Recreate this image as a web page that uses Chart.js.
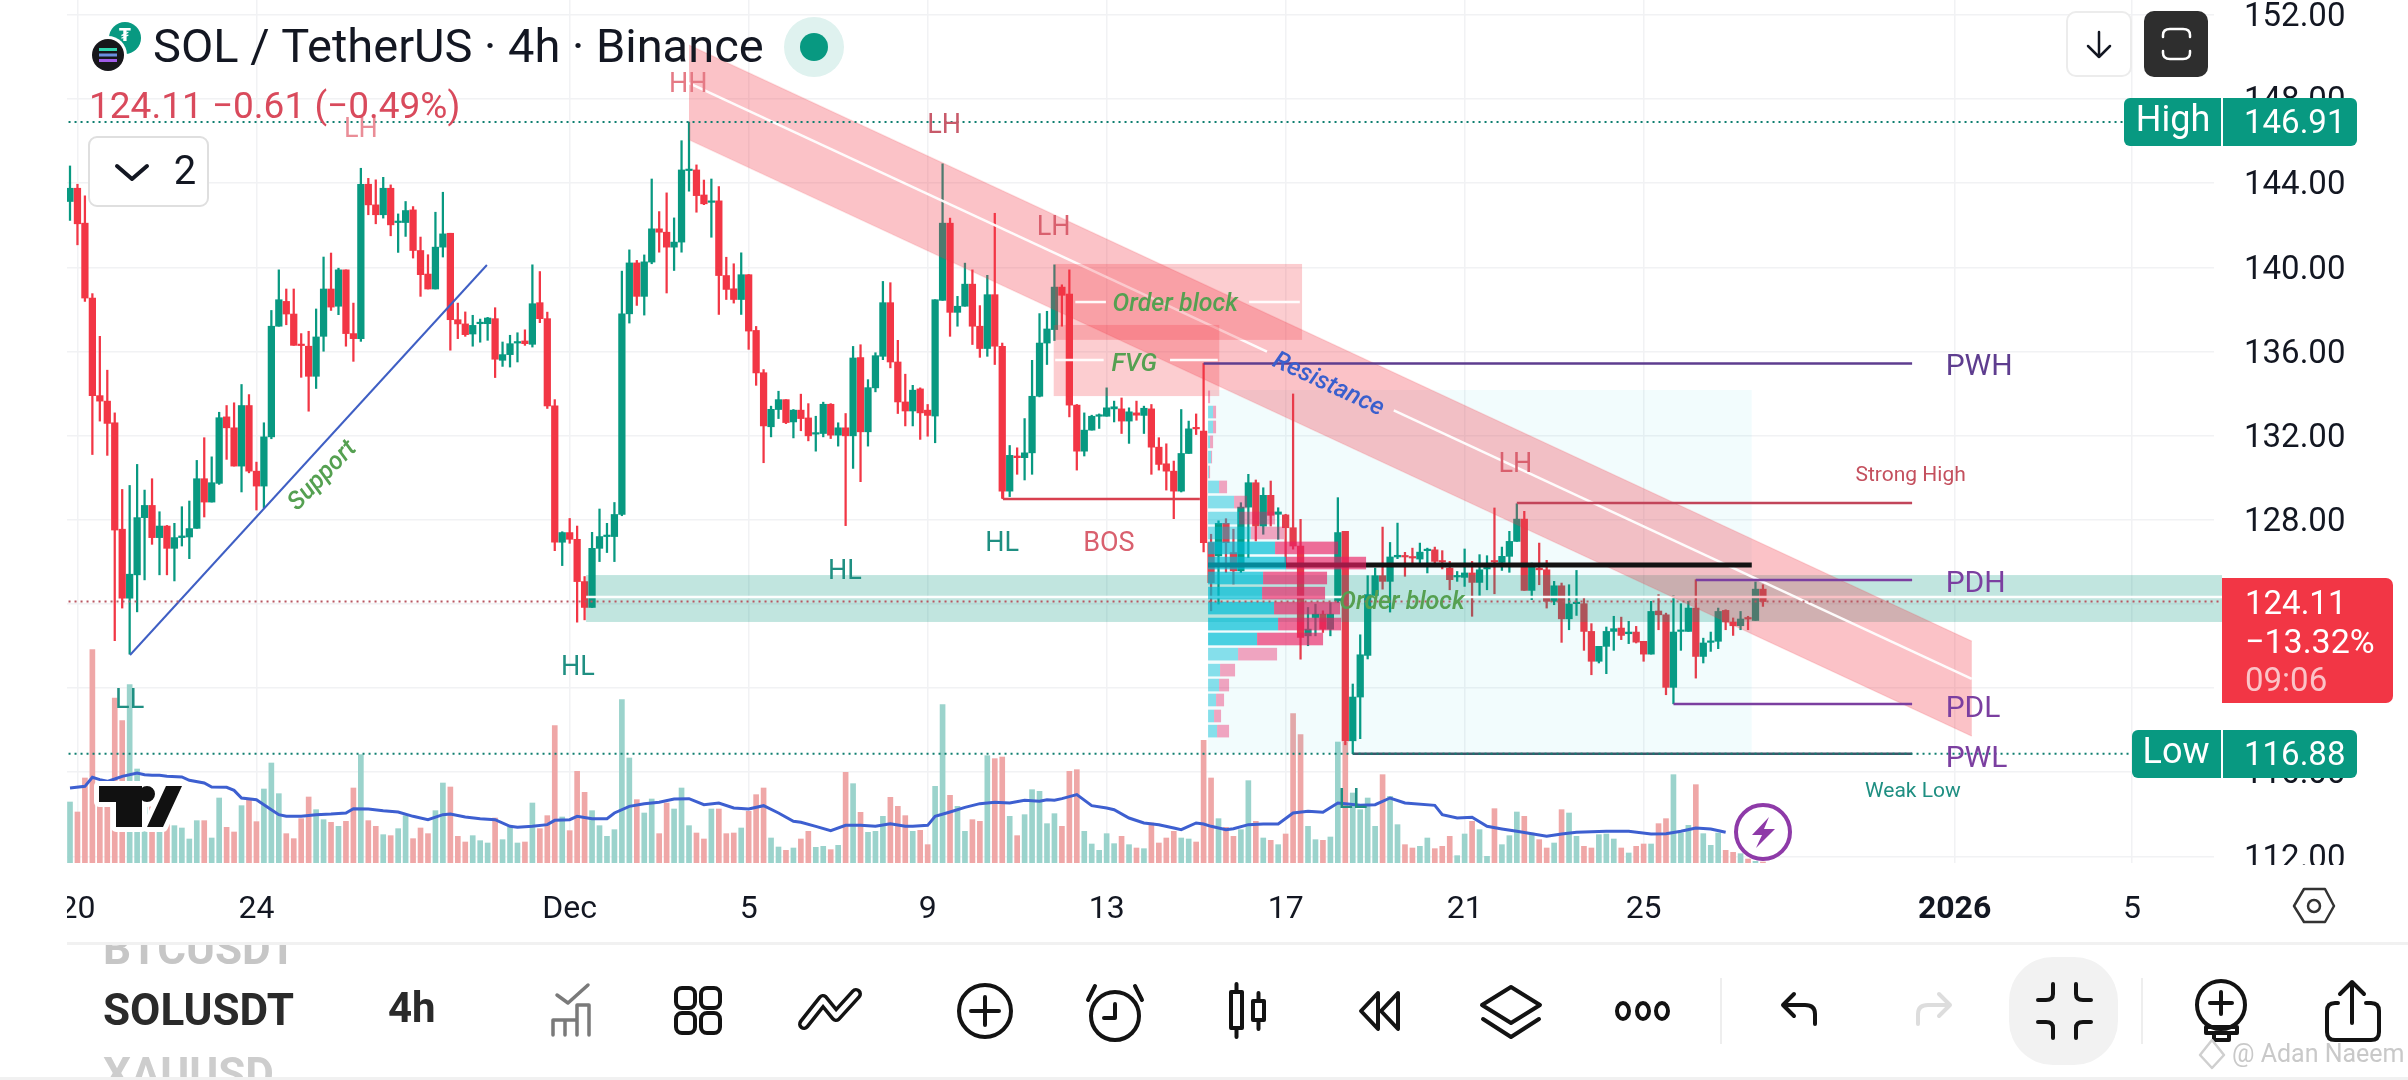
<!DOCTYPE html>
<html>
<head>
<meta charset="utf-8">
<style>
  html, body { margin: 0; padding: 0; background: #fff; overflow: hidden; }
  canvas { display: block; }
</style>
<script src="https://cdn.jsdelivr.net/npm/chart.js@4/dist/chart.umd.js"></script>
</head>
<body>
<canvas id="chart" width="2408" height="1080" style="width:2408px;height:1080px"></canvas>
<script>
// 4h candles
const opens = [143.13,143.76,142.10,138.54,133.90,133.64,132.61,127.55,124.27,125.38,128.10,128.68,127.15,127.70,126.64,127.15,127.18,127.59,129.95,128.84,
129.73,132.89,132.37,130.55,133.43,130.31,129.60,131.94,137.20,138.38,137.78,136.33,136.25,134.82,136.72,138.97,138.15,139.88,136.85,136.61,
143.95,142.97,142.50,143.76,142.13,142.13,142.73,140.80,139.68,138.97,140.96,141.62,137.51,137.31,136.83,137.32,137.32,137.56,135.58,135.85,
136.40,136.50,136.34,138.32,137.56,133.41,126.93,127.39,127.07,125.06,123.83,126.64,127.20,127.20,128.25,137.79,140.21,138.62,140.25,141.83,
141.67,140.96,141.20,144.60,144.63,143.44,143.09,143.16,139.61,138.98,138.47,139.65,137.00,134.99,132.42,133.24,133.71,132.65,133.21,132.84,
132.07,132.10,133.49,132.02,132.37,131.99,135.71,132.18,134.27,135.77,138.32,135.50,133.60,133.17,134.22,133.21,132.93,138.43,142.10,137.86,
138.15,139.20,137.20,136.14,138.70,136.25,129.36,131.03,130.95,131.18,133.87,136.40,137.04,139.06,138.73,133.45,131.26,132.26,132.92,132.92,
133.27,133.27,132.69,133.08,132.96,133.27,131.45,130.66,130.31,129.36,131.15,132.37,132.21,126.91,126.28,127.83,126.44,125.57,128.60,129.76,
127.70,129.16,128.26,128.23,127.62,126.75,122.48,123.35,123.51,122.80,124.14,127.45,117.49,119.57,121.55,124.40,125.34,125.07,126.23,126.29,
126.23,126.13,126.53,126.57,126.05,125.70,125.28,125.26,125.47,125.02,125.66,126.04,125.97,126.26,126.97,128.03,124.64,125.70,125.62,124.12,
124.86,123.29,124.01,124.01,122.69,121.27,121.98,122.69,122.85,122.58,122.66,122.22,121.61,123.66,123.48,120.03,122.69,122.69,123.80,121.50,
122.17,122.22,123.69,123.14,122.96,123.33,123.21,124.70];
const highs = [144.82,143.95,143.40,138.75,136.72,135.11,133.08,129.44,129.63,130.63,129.41,129.95,128.38,127.73,127.83,128.62,128.89,130.82,131.90,130.99,
133.11,133.43,133.56,134.43,133.95,130.74,132.61,137.95,139.88,138.97,138.97,136.85,136.96,138.02,140.49,140.68,139.96,139.88,138.30,144.71,
144.23,144.16,144.28,143.92,142.54,143.13,142.89,141.44,140.60,142.62,143.57,141.62,138.30,137.88,137.72,137.54,137.62,138.08,136.45,136.77,
136.89,137.03,140.12,139.80,137.87,133.71,127.43,128.06,127.70,125.30,127.40,128.51,127.83,128.82,139.82,140.83,140.33,140.59,144.20,142.65,
143.54,142.35,146.02,146.91,144.87,144.15,144.20,143.84,140.48,140.17,140.69,139.66,137.19,135.14,133.40,134.11,133.71,133.24,133.97,133.52,
132.92,133.59,133.52,132.61,133.05,136.24,136.32,134.66,135.94,139.33,139.27,136.53,134.92,134.39,134.27,133.48,138.46,144.92,142.34,138.62,
140.20,139.88,138.18,139.62,142.57,136.40,131.53,131.42,132.81,135.58,137.80,137.91,140.12,139.17,139.88,133.48,133.08,132.97,133.03,134.27,
133.64,133.79,133.32,133.64,133.40,133.48,131.90,131.61,130.79,133.24,132.69,133.03,135.43,127.31,127.95,128.05,127.55,128.81,130.16,129.89,
129.52,129.84,128.57,128.26,133.98,128.02,123.83,123.99,123.67,124.06,129.05,127.45,120.19,122.53,125.34,125.70,127.65,126.92,127.84,126.45,
126.65,126.89,126.65,126.70,126.53,126.02,125.54,126.61,126.02,126.34,126.29,128.56,126.70,127.45,128.76,128.40,125.94,126.89,126.07,125.07,
124.99,124.91,125.59,124.28,123.06,121.98,122.90,123.41,123.37,123.17,122.93,122.22,124.12,124.44,123.56,124.39,124.01,124.12,125.15,122.37,
122.66,123.80,123.72,123.33,123.64,123.41,125.04,124.91];
const lows = [142.23,141.07,138.38,131.10,132.69,131.06,122.25,123.80,121.61,123.62,125.14,126.83,125.38,125.38,125.09,126.75,126.15,127.59,128.13,128.84,
129.68,130.87,130.55,129.32,130.23,128.46,128.57,131.85,137.20,137.27,136.29,134.77,133.16,134.24,136.01,137.95,137.75,136.25,135.53,136.48,
142.50,142.07,142.34,141.50,140.71,141.47,140.44,138.62,138.97,138.97,140.49,136.06,136.61,136.72,136.25,136.44,136.53,134.76,135.29,135.26,
135.50,136.29,136.21,137.37,133.29,126.53,125.82,126.88,123.13,123.24,123.83,126.01,126.44,126.01,128.19,137.35,138.19,137.73,140.17,140.72,
138.78,139.85,140.72,143.62,142.62,142.98,141.43,137.76,138.47,138.30,137.76,136.10,134.39,130.71,131.94,132.81,132.57,131.89,132.23,131.75,
131.26,131.94,131.86,131.50,127.72,130.44,129.81,131.50,134.08,135.61,135.22,133.05,132.46,132.46,131.82,131.97,131.66,138.43,136.72,137.20,
138.15,136.33,135.72,135.77,135.38,129.02,129.10,130.16,129.89,130.16,133.84,135.38,136.52,137.20,132.89,130.36,131.03,132.26,132.34,132.92,
132.65,132.10,131.63,132.73,132.10,130.16,130.36,129.41,128.05,129.32,131.15,132.05,126.47,123.67,123.99,125.49,124.94,125.49,126.20,126.99,
127.31,127.70,127.07,125.88,126.60,121.37,122.01,122.48,122.64,122.48,124.06,117.30,116.88,117.59,121.38,124.40,124.70,123.61,126.15,125.31,
125.94,125.94,125.47,125.94,125.66,124.67,125.07,124.83,123.41,124.40,124.67,124.48,125.59,125.50,126.97,124.64,124.20,124.91,123.80,123.96,
122.17,122.77,123.45,121.79,120.63,121.19,120.68,121.79,122.30,122.11,122.14,121.27,121.61,122.77,119.68,119.25,121.79,122.69,120.47,121.19,
121.74,121.87,122.77,122.50,122.77,122.77,123.21,123.88];
const closes = [143.76,142.07,138.54,133.90,133.64,132.58,127.51,124.27,125.41,128.10,128.68,127.15,127.70,126.64,127.15,127.23,127.58,129.95,128.84,129.76,
132.85,132.37,130.55,133.43,130.31,129.60,131.94,137.20,138.46,137.78,136.29,136.28,134.82,136.69,138.97,138.11,139.88,136.85,136.61,143.95,
142.97,142.50,143.76,142.02,142.18,142.70,140.80,139.65,138.97,140.96,141.59,137.51,137.31,136.80,137.24,137.35,137.59,135.63,135.85,136.37,
136.45,136.37,138.27,137.56,133.41,126.93,127.39,127.07,125.06,123.83,126.64,127.20,127.27,128.25,137.79,140.21,138.62,140.26,141.83,141.67,
140.96,141.20,144.63,144.66,143.41,143.02,143.16,139.61,138.95,138.47,139.65,136.97,134.98,132.46,133.25,133.71,132.62,133.21,132.81,131.99,
132.13,133.49,132.02,132.37,131.99,135.69,132.18,134.28,135.80,138.32,135.50,133.60,133.17,134.16,133.08,132.96,138.46,142.10,137.86,138.15,
139.20,137.20,136.14,138.70,136.25,129.36,131.06,130.95,131.18,133.87,136.40,137.07,139.06,138.67,133.45,131.26,132.26,132.92,132.97,133.32,
133.37,132.69,133.13,132.97,133.30,131.45,130.63,130.31,129.36,131.15,132.32,132.32,126.91,125.01,127.83,126.91,125.57,128.60,129.76,127.70,
129.16,128.21,128.37,127.62,126.75,122.40,122.80,123.51,122.80,123.51,127.39,117.49,119.57,121.58,124.44,125.34,125.07,126.23,126.31,126.23,
126.18,126.46,126.57,126.02,125.99,125.15,125.34,125.47,125.02,125.62,125.73,125.99,126.26,126.97,128.03,124.64,125.78,125.62,124.12,124.86,
123.29,123.99,124.07,122.69,121.27,121.98,122.69,122.82,122.50,122.66,122.18,121.61,123.64,123.48,120.03,122.66,122.74,123.80,121.50,122.14,
122.22,123.64,123.14,122.96,123.28,123.28,124.70,124.11];

// volume per bar and its moving average, on the hidden right-hand axis
const volumes = [183,153,255,640,200,200,495,427,535,282,200,230,200,190,112,105,72,127,127,75,195,107,93,172,188,124,222,300,208,88,
73,133,198,160,130,122,110,125,225,325,127,110,85,82,103,142,73,105,88,157,240,228,80,63,82,67,60,135,70,108,
60,63,180,103,142,412,138,97,275,212,157,112,80,100,490,315,190,150,192,88,180,162,225,112,90,72,162,162,88,90,
105,155,205,225,75,48,38,45,72,95,47,50,40,53,272,238,152,92,95,140,197,170,142,95,98,55,230,475,203,170,
95,130,125,322,313,318,140,82,145,220,215,118,148,110,275,280,95,57,38,88,58,80,55,45,43,120,60,75,95,75,
72,63,368,255,133,107,80,100,247,125,75,68,55,87,448,385,110,70,68,78,363,363,210,160,195,110,265,200,115,55,
45,50,75,43,50,80,22,87,125,100,20,163,55,82,153,140,90,70,45,60,160,150,80,50,45,85,87,72,45,30,
50,57,57,118,133,265,90,113,235,88,53,90,38,32,28,12,5,3];
const volumeMaBars = [0,2,3,4,5,6,7,9,10,11,12,13,15,16,18,19,21,22,23,25,26,27,28,29,31,33,35,37,38,40,42,44,46,48,50,51,53,55,57,59,60,62,64,65,67,68,70,72,73,75,77,79,81,83,85,87,89,91,93,95,97,98,100,102,104,106,108,110,112,113,115,116,118,120,122,124,126,128,130,131,132,133,135,137,139,140,142,144,146,148,149,151,152,153,155,156,158,160,162,164,166,168,170,171,173,175,177,179,183,184,186,188,190,192,194,198,200,202,204,206,209,212,214,216,218,220,222];
const volumeMa = [225,230,257,250,245,252,260,270,265,263,263,260,258,248,240,228,227,218,195,190,175,160,145,140,140,145,147,150,163,162,157,153,140,130,145,147,138,133,130,110,107,110,115,128,130,140,133,133,150,170,178,182,192,193,175,180,165,162,172,150,125,122,110,97,113,113,110,118,110,110,113,140,153,167,178,182,180,188,185,190,188,193,205,172,165,160,135,120,115,105,100,120,117,110,100,103,115,117,117,150,155,152,180,178,173,175,195,180,173,145,135,137,110,102,95,80,87,92,94,95,95,87,88,95,105,102,92];

// axis labels
const priceTicks = [152,148,144,140,136,132,128,124,120,116,112];
const timeTickBars = [1,25,67,91,115,139,163,187,211,252.7,276.5];
const timeTickLabels = ['20','24','Dec','5','9','13','17','21','25','2026','5'];

// fixed range volume profile rows, top to bottom
const profilePrices = [133.84,133.12,132.41,131.70,130.98,130.27,129.56,128.84,128.08,127.37,126.66,125.94,125.23,124.51,123.80,123.04,122.33,121.61,120.85,120.14,119.43,118.67,117.95];
const profileUp = [0,5,5,2,3,1,11,26,31,43,67,78,55,54,66,70,49,30,12,11,8,6,9];
const profileDown = [2,3,3,3,1,1,8,13,36,33,63,80,64,63,66,63,66,39,15,10,8,7,12];

// drawn price levels
const channelBars = [83, 255];
const channelUpper = [150.57, 122.23];
const channelMiddle = [148.76, 120.43];
const channelLower = [146.06, 117.71];
const supportBars = [8.05, 55.9];
const supportPrices = [121.57, 140.11];

const GREEN = '#089981';
const RED = '#f23645';
const barColor = (i) => (closes[i] >= opens[i] ? GREEN : RED);

const wickData = highs.map((h, i) => ({ x: i, y: [lows[i], h] }));
const bodyData = opens.map((o, i) => ({ x: i, y: [Math.min(o, closes[i]), Math.max(o, closes[i])] }));
const volumeData = volumes.map((v, i) => ({ x: i, y: v }));
const volumeMaData = volumeMaBars.map((b, i) => ({ x: b, y: volumeMa[i] }));

function stroked(ctx, color, width, build) {
  ctx.save();
  ctx.strokeStyle = color;
  ctx.lineWidth = width;
  ctx.lineCap = 'round';
  ctx.lineJoin = 'round';
  ctx.beginPath();
  build(ctx);
  ctx.stroke();
  ctx.restore();
}

function text(ctx, str, x, y, font, color, align, rotate) {
  ctx.save();
  ctx.font = font;
  ctx.fillStyle = color;
  ctx.textAlign = align || 'center';
  ctx.textBaseline = 'middle';
  // Roboto sits a little high on a middle baseline
  ctx.translate(x, y + 3);
  if (rotate) ctx.rotate(rotate);
  ctx.fillText(str, 0, 0);
  ctx.restore();
}

// Everything drawn on the chart by hand: channel, zones, levels, labels
const drawingsPlugin = {
  id: 'drawings',
  afterDatasetsDraw(chart) {
    const { ctx, chartArea } = chart;
    const xs = chart.scales.x;
    const ys = chart.scales.y;
    const X = (v) => xs.getPixelForValue(v);
    const Y = (v) => ys.getPixelForValue(v);
    const box = (b0, b1, pTop, pBot, color) => {
      ctx.fillStyle = color;
      ctx.fillRect(X(b0), Y(pTop), X(b1) - X(b0), Y(pBot) - Y(pTop));
    };
    const seg = (b0, p0, b1, p1, color, width, dash) => {
      ctx.save();
      ctx.strokeStyle = color;
      ctx.lineWidth = width;
      if (dash) ctx.setLineDash(dash);
      ctx.beginPath();
      ctx.moveTo(X(b0), Y(p0));
      ctx.lineTo(X(b1), Y(p1));
      ctx.stroke();
      ctx.restore();
    };
    const white = 'rgba(255,255,255,0.95)';

    ctx.save();
    ctx.beginPath();
    ctx.rect(chartArea.left, chartArea.top, chartArea.width + 8, chartArea.height);
    ctx.clip();

    // profile background
    box(152.6, 225.5, 134.17, 116.9, 'rgba(0,188,212,0.05)');

    // demand zone
    box(69.2, 288.6, 125.37, 123.14, 'rgba(8,153,129,0.25)');
    seg(69.2, 124.33, 170.6, 124.33, white, 2.5);
    seg(186.4, 124.33, 288.6, 124.33, white, 2.5);

    // falling channel
    ctx.fillStyle = 'rgba(242,54,69,0.30)';
    ctx.beginPath();
    ctx.moveTo(X(channelBars[0]), Y(channelUpper[0]));
    ctx.lineTo(X(channelBars[1]), Y(channelUpper[1]));
    ctx.lineTo(X(channelBars[1]), Y(channelLower[1]));
    ctx.lineTo(X(channelBars[0]), Y(channelLower[0]));
    ctx.closePath();
    ctx.fill();
    seg(channelBars[0], channelUpper[0], channelBars[1], channelUpper[1], 'rgba(242,54,69,0.12)', 1.5);
    seg(channelBars[0], channelLower[0], channelBars[1], channelLower[1], 'rgba(242,54,69,0.12)', 1.5);
    const midAt = (b) => channelMiddle[0] + (b - channelBars[0]) * (channelMiddle[1] - channelMiddle[0]) / (channelBars[1] - channelBars[0]);
    seg(channelBars[0], channelMiddle[0], 160.5, midAt(160.5), white, 2.5);
    seg(177.5, midAt(177.5), channelBars[1], channelMiddle[1], white, 2.5);

    // order block and FVG boxes
    box(132.1, 165.2, 140.16, 136.55, 'rgba(242,54,69,0.25)');
    seg(134.8, 138.35, 138.9, 138.35, white, 2.5);
    seg(158.1, 138.35, 164.9, 138.35, white, 2.5);
    box(131.9, 154.1, 137.26, 133.88, 'rgba(242,54,69,0.25)');
    seg(132.1, 135.6, 138.6, 135.6, white, 2.5);
    seg(147.5, 135.6, 153.9, 135.6, white, 2.5);

    // point of control, then the profile rows over it
    seg(152.6, 125.85, 225.5, 125.85, '#131313', 5);
    const rowHeight = Math.abs(Y(0.6) - Y(0));
    profilePrices.forEach((p, i) => {
      const inside = p < 127 && p > 122;
      const x0 = X(152.6);
      const upEnd = X(152.6 + profileUp[i] / 7.458);
      const downEnd = X(152.6 + (profileUp[i] + profileDown[i]) / 7.458);
      const y = Y(p) - rowHeight / 2;
      ctx.fillStyle = inside ? 'rgba(0,188,212,0.7)' : 'rgba(0,188,212,0.45)';
      ctx.fillRect(x0, y, upEnd - x0, rowHeight);
      ctx.fillStyle = inside ? 'rgba(233,30,99,0.65)' : 'rgba(233,30,99,0.4)';
      ctx.fillRect(upEnd, y, downEnd - upEnd, rowHeight);
    });

    // support line
    seg(supportBars[0], supportPrices[0], supportBars[1], supportPrices[1], '#3f5fc4', 2);

    // structure levels
    const purple = '#5e3d8f';
    const violet = '#7b3fa0';
    const brick = '#c2455a';
    seg(125.1, 129.36, 125.1, 128.98, RED, 2.5);
    seg(125.1, 128.98, 151.5, 128.98, '#d8404f', 2.5);
    seg(152, 135.43, 247, 135.43, purple, 2.5);
    seg(194, 128.8, 247, 128.8, brick, 2.5);
    seg(218, 125.13, 247, 125.13, violet, 2.5);
    seg(215, 119.24, 247, 119.24, violet, 2.5);
    seg(172, 116.88, 247, 116.88, '#40566b', 2.5);

    // last price, high and low lines
    seg(-1, 146.91, 289, 146.91, '#0f7f70', 2, [2, 4]);
    seg(-1, 116.88, 289, 116.88, '#0f7f70', 2, [2, 4]);
    seg(-1, 124.11, 289, 124.11, '#b85560', 2, [2, 4]);
    ctx.restore();

    // labels
    const teal = '#1f8f82';
    const pale = '#d9606e';
    const swing = '27px Roboto';
    [['HH', 82.9, 148.81, '#e57a85'], ['LH', 39, 146.67, '#ea8d97'], ['LH', 117.2, 146.86, '#c85a6a'],
     ['LH', 131.9, 142.01, pale], ['LH', 193.8, 130.74, pale], ['BOS', 139.3, 126.99, pale],
     ['HL', 68.1, 121.09, teal], ['HL', 103.9, 125.66, teal], ['HL', 125, 126.99, teal],
     ['LL', 8, 119.52, teal], ['LL', 172, 114.77, teal]].forEach(([s, b, p, c]) => {
      text(ctx, s, X(b), Y(p), swing, c);
    });
    const level = '30px Roboto';
    text(ctx, 'PWH', X(251.5), Y(135.36), level, purple, 'left');
    text(ctx, 'PDH', X(251.5), Y(125.04), level, violet, 'left');
    text(ctx, 'PDL', X(251.5), Y(119.14), level, violet, 'left');
    text(ctx, 'PWL', X(251.5), Y(116.72), level, violet, 'left');
    text(ctx, 'Strong High', X(246.8), Y(130.22), '21px Roboto', '#c4505e');
    text(ctx, 'Weak Low', X(247.1), Y(115.2), '21px Roboto', teal);

    const note = 'italic 500 25px Roboto';
    text(ctx, 'Order block', X(148.2), Y(138.35), note, '#55a051');
    text(ctx, 'FVG', X(142.7), Y(135.5), note, '#55a051');
    text(ctx, 'Order block', X(178.6), Y(124.18), note, '#55a051');
    text(ctx, 'Support', X(33.9), Y(130.22), note, '#55a051', 'center', -0.8);
    text(ctx, 'Resistance', X(168.7), Y(134.55), note, '#3a5fcd', 'center', 0.435);
  },

  afterDraw(chart) {
    const { ctx } = chart;

    // clip the axis labels the way the screen edges do
    ctx.fillStyle = '#fff';
    ctx.fillRect(0, 880, 67, 55);
    ctx.fillRect(2220, 865, 150, 14);

    drawTvLogo(ctx);
    drawHeader(ctx);
    drawPriceBadges(ctx);
    drawBolt(ctx);
    drawToolbar(ctx);
  }
};

function drawTvLogo(ctx) {
  ctx.save();
  ctx.lineJoin = 'round';
  const shapes = new Path2D();
  shapes.moveTo(99, 786); shapes.lineTo(142, 786); shapes.lineTo(142, 827);
  shapes.lineTo(116, 827); shapes.lineTo(116, 802); shapes.lineTo(99, 802); shapes.closePath();
  shapes.moveTo(182, 786); shapes.lineTo(163, 827); shapes.lineTo(147, 827); shapes.lineTo(166, 786); shapes.closePath();
  shapes.moveTo(155, 794); shapes.arc(147, 794, 8, 0, Math.PI * 2);
  ctx.strokeStyle = '#fff';
  ctx.lineWidth = 10;
  ctx.stroke(shapes);
  ctx.fillStyle = '#111';
  ctx.fill(shapes);
  ctx.restore();
}

function drawHeader(ctx) {
  // symbol logos
  ctx.fillStyle = GREEN;
  ctx.beginPath(); ctx.arc(125, 38, 16, 0, Math.PI * 2); ctx.fill();
  text(ctx, '₮', 125, 34, 'bold 17px "DejaVu Sans"', '#fff');
  ctx.fillStyle = '#fff';
  ctx.beginPath(); ctx.arc(108, 55, 19, 0, Math.PI * 2); ctx.fill();
  ctx.fillStyle = '#17171b';
  ctx.beginPath(); ctx.arc(108, 55, 16, 0, Math.PI * 2); ctx.fill();
  ['#2fd7b0', '#6b8fe0', '#a05ce8'].forEach((c, i) => {
    ctx.fillStyle = c;
    ctx.fillRect(99, 48 + i * 5.5, 18, 3);
  });

  text(ctx, 'SOL / TetherUS · 4h · Binance', 153, 47, '47px Roboto', '#131722', 'left');
  text(ctx, '124.11 −0.61 (−0.49%)', 89, 106, '37px Roboto', '#d94a5c', 'left');

  // status dot
  ctx.fillStyle = '#dff2ef';
  ctx.beginPath(); ctx.arc(814, 47, 30, 0, Math.PI * 2); ctx.fill();
  ctx.fillStyle = GREEN;
  ctx.beginPath(); ctx.arc(814, 47, 14, 0, Math.PI * 2); ctx.fill();

  // collapse indicators button
  ctx.fillStyle = '#fff';
  ctx.strokeStyle = '#dfdfdf';
  ctx.lineWidth = 2;
  ctx.beginPath(); ctx.roundRect(89, 137, 119, 69, 8); ctx.fill(); ctx.stroke();
  stroked(ctx, '#131722', 4, (c) => { c.moveTo(117, 166); c.lineTo(132, 179); c.lineTo(147, 166); });
  text(ctx, '2', 185, 171, '40px Roboto', '#131722');

  // top right buttons
  ctx.fillStyle = '#fff';
  ctx.strokeStyle = '#ececec';
  ctx.beginPath(); ctx.roundRect(2067, 12, 64, 64, 9); ctx.fill(); ctx.stroke();
  stroked(ctx, '#131722', 2.5, (c) => {
    c.moveTo(2099, 32); c.lineTo(2099, 57);
    c.moveTo(2088, 46); c.lineTo(2099, 57); c.lineTo(2110, 46);
  });
  ctx.fillStyle = '#2e2e2e';
  ctx.beginPath(); ctx.roundRect(2144, 11, 64, 66, 10); ctx.fill();
  stroked(ctx, '#fff', 2.5, (c) => {
    c.moveTo(2163, 37); c.lineTo(2163, 35); c.quadraticCurveTo(2163, 29, 2170, 29); c.lineTo(2183, 29);
    c.quadraticCurveTo(2190, 29, 2190, 35); c.lineTo(2190, 37);
    c.moveTo(2163, 51); c.lineTo(2163, 53); c.quadraticCurveTo(2163, 59, 2170, 59); c.lineTo(2183, 59);
    c.quadraticCurveTo(2190, 59, 2190, 53); c.lineTo(2190, 51);
  });
}

function drawPriceBadges(ctx) {
  const badge = (x, y, h, label, labelX, value) => {
    ctx.fillStyle = GREEN;
    ctx.beginPath(); ctx.roundRect(x, y, 2357 - x, h, 6); ctx.fill();
    ctx.fillStyle = '#fff';
    ctx.fillRect(2221, y, 2, h);
    text(ctx, label, labelX, y + h / 2 - 3, '36px Roboto', '#fff');
    text(ctx, value, 2244, y + h / 2, '33px Roboto', '#fff', 'left');
  };
  badge(2124, 98, 48, 'High', 2173, '146.91');
  badge(2132, 730, 48, 'Low', 2176, '116.88');

  ctx.fillStyle = RED;
  ctx.beginPath(); ctx.roundRect(2222, 578, 171, 125, [0, 7, 7, 0]); ctx.fill();
  text(ctx, '124.11', 2245, 603, '33px Roboto', '#fff', 'left');
  text(ctx, '−13.32%', 2245, 641, '34px Roboto', '#fff', 'left');
  text(ctx, '09:06', 2245, 680, '33px Roboto', 'rgba(255,255,255,0.7)', 'left');
}

function drawBolt(ctx) {
  ctx.save();
  ctx.fillStyle = '#fff';
  ctx.strokeStyle = '#8e3aa8';
  ctx.lineWidth = 4;
  ctx.beginPath(); ctx.arc(1763, 832, 27, 0, Math.PI * 2); ctx.fill(); ctx.stroke();
  ctx.fillStyle = '#8e3aa8';
  ctx.beginPath();
  ctx.moveTo(1769, 817); ctx.lineTo(1752, 835); ctx.lineTo(1762, 835); ctx.lineTo(1756, 848);
  ctx.lineTo(1775, 829); ctx.lineTo(1764, 829); ctx.closePath();
  ctx.fill();
  ctx.restore();
}

function drawToolbar(ctx) {
  const ink = '#131313';

  // panel lines
  ctx.fillStyle = '#f1f1f1';
  ctx.fillRect(67, 942, 2341, 3);
  ctx.fillRect(0, 1077, 2408, 3);

  // symbol wheel
  ctx.save();
  ctx.beginPath(); ctx.rect(0, 945, 400, 132); ctx.clip();
  text(ctx, 'BTCUSDT', 103, 950, 'bold 44px Roboto', '#c6c6c6', 'left');
  text(ctx, 'SOLUSDT', 103, 1011, 'bold 44px Roboto', '#2a2a2a', 'left');
  text(ctx, 'XAUUSD', 103, 1075, 'bold 44px Roboto', '#cdcdcd', 'left');
  ctx.restore();
  text(ctx, '4h', 388, 1008, 'bold 42px Roboto', '#2a2a2a', 'left');

  // watchlist check
  stroked(ctx, '#7a7a7a', 3.5, (c) => {
    c.moveTo(557, 995); c.lineTo(568, 1003); c.lineTo(588, 985);
    c.moveTo(553, 1035); c.lineTo(553, 1020); c.lineTo(577, 1020); c.moveTo(577, 1035); c.lineTo(577, 1005); c.lineTo(589, 1005); c.lineTo(589, 1035);
    c.moveTo(565, 1020); c.lineTo(565, 1035);
  });

  // four squares
  stroked(ctx, ink, 4, (c) => {
    [[676, 988], [701, 988], [676, 1013], [701, 1013]].forEach(([x, y]) => c.roundRect(x, y, 19, 20, 6));
  });

  // drawing tool
  stroked(ctx, ink, 12, (c) => { c.moveTo(804, 1024); c.lineTo(823, 1000); c.lineTo(836, 1016); c.lineTo(856, 994); });
  stroked(ctx, '#fff', 5, (c) => { c.moveTo(804, 1024); c.lineTo(823, 1000); c.lineTo(836, 1016); c.lineTo(856, 994); });

  // plus
  stroked(ctx, ink, 4, (c) => {
    c.arc(985, 1011, 26, 0, Math.PI * 2);
    c.moveTo(971, 1011); c.lineTo(999, 1011);
    c.moveTo(985, 997); c.lineTo(985, 1025);
  });

  // alarm
  stroked(ctx, ink, 4, (c) => {
    c.arc(1115, 1016, 24, 0, Math.PI * 2);
    c.moveTo(1115, 1004); c.lineTo(1115, 1018); c.lineTo(1104, 1018);
    c.moveTo(1088, 1000); c.lineTo(1095, 986);
    c.moveTo(1142, 1000); c.lineTo(1135, 986);
  });

  // candles
  stroked(ctx, ink, 4, (c) => {
    c.rect(1231, 992, 11, 36); c.moveTo(1236.5, 984); c.lineTo(1236.5, 992); c.moveTo(1236.5, 1028); c.lineTo(1236.5, 1037);
    c.rect(1253, 1001, 11, 19); c.moveTo(1258.5, 993); c.lineTo(1258.5, 1001); c.moveTo(1258.5, 1020); c.lineTo(1258.5, 1029);
  });

  // rewind
  stroked(ctx, ink, 4, (c) => {
    c.moveTo(1378, 993); c.lineTo(1361, 1011); c.lineTo(1378, 1029); c.closePath();
    c.moveTo(1398, 993); c.lineTo(1381, 1011); c.lineTo(1398, 1029); c.closePath();
  });

  // layers
  stroked(ctx, ink, 4, (c) => {
    c.moveTo(1511, 987); c.lineTo(1540, 1005); c.lineTo(1511, 1023); c.lineTo(1482, 1005); c.closePath();
    c.moveTo(1483, 1019); c.lineTo(1511, 1037); c.lineTo(1539, 1019);
  });

  // more
  stroked(ctx, ink, 4, (c) => {
    [1623, 1643, 1662].forEach((x) => { c.moveTo(x + 6, 1011); c.ellipse(x, 1011, 6, 8, 0, 0, Math.PI * 2); });
  });

  ctx.fillStyle = '#eeeeee';
  ctx.fillRect(1720, 978, 2, 66);
  ctx.fillRect(2141, 978, 2, 66);

  // undo and redo
  const arrow = (c, m, o) => {
    c.moveTo(o + m * 16, 1024); c.lineTo(o + m * 16, 1014); c.quadraticCurveTo(o + m * 16, 1005, o + m * 6, 1005); c.lineTo(o - m * 15, 1005);
    c.moveTo(o - m * 5, 994); c.lineTo(o - m * 16, 1005); c.lineTo(o - m * 5, 1016);
  };
  stroked(ctx, ink, 4, (c) => arrow(c, 1, 1799));
  stroked(ctx, '#dddddd', 4, (c) => arrow(c, -1, 1934));

  // fullscreen exit
  ctx.fillStyle = '#f2f2f2';
  ctx.beginPath(); ctx.roundRect(2009, 957, 109, 108, 44); ctx.fill();
  stroked(ctx, ink, 4, (c) => {
    c.moveTo(2053, 984); c.lineTo(2053, 994); c.quadraticCurveTo(2053, 1000, 2046, 1000); c.lineTo(2038, 1000);
    c.moveTo(2076, 984); c.lineTo(2076, 994); c.quadraticCurveTo(2076, 1000, 2083, 1000); c.lineTo(2091, 1000);
    c.moveTo(2038, 1022); c.lineTo(2046, 1022); c.quadraticCurveTo(2053, 1022, 2053, 1028); c.lineTo(2053, 1038);
    c.moveTo(2091, 1022); c.lineTo(2083, 1022); c.quadraticCurveTo(2076, 1022, 2076, 1028); c.lineTo(2076, 1038);
  });

  // ideas bulb
  stroked(ctx, ink, 4, (c) => {
    c.arc(2221, 1005, 24, 0, Math.PI * 2);
    c.moveTo(2210, 1003); c.lineTo(2232, 1003);
    c.moveTo(2221, 992); c.lineTo(2221, 1014);
    c.rect(2206, 1027, 31, 6);
    c.rect(2214, 1033, 15, 7);
  });

  // share
  stroked(ctx, ink, 4, (c) => {
    c.moveTo(2338, 1003); c.lineTo(2335, 1003); c.quadraticCurveTo(2327, 1003, 2327, 1011); c.lineTo(2327, 1032);
    c.quadraticCurveTo(2327, 1040, 2335, 1040); c.lineTo(2371, 1040); c.quadraticCurveTo(2379, 1040, 2379, 1032);
    c.lineTo(2379, 1011); c.quadraticCurveTo(2379, 1003, 2371, 1003); c.lineTo(2366, 1003);
    c.moveTo(2352, 1023); c.lineTo(2352, 982);
    c.moveTo(2340, 994); c.lineTo(2352, 982); c.lineTo(2364, 994);
  });

  // axis settings
  stroked(ctx, '#333', 2.5, (c) => {
    c.moveTo(2294, 906); c.lineTo(2304, 889); c.lineTo(2325, 889); c.lineTo(2334, 906); c.lineTo(2325, 922); c.lineTo(2304, 922); c.closePath();
    c.moveTo(2320, 906); c.arc(2314, 906, 6, 0, Math.PI * 2);
  });

  // watermark
  stroked(ctx, '#cfcfcf', 2.5, (c) => {
    c.moveTo(2212, 1040); c.lineTo(2224, 1055); c.lineTo(2212, 1068); c.lineTo(2200, 1055); c.closePath();
  });
  text(ctx, '@ Adan Naeem', 2232, 1053, '25px Roboto', '#c9c9c9', 'left');
}

new Chart(document.getElementById('chart').getContext('2d'), {
  data: {
    datasets: [
      {
        type: 'line',
        data: volumeMaData,
        yAxisID: 'y1',
        borderColor: '#3d5fd0',
        borderWidth: 3,
        pointRadius: 0,
        tension: 0,
        order: 3
      },
      {
        type: 'bar',
        data: volumeData,
        yAxisID: 'y1',
        backgroundColor: volumes.map((v, i) => (barColor(i) === GREEN ? '#9bd3cc' : '#efa7a7')),
        barThickness: 5,
        grouped: false,
        order: 4
      },
      {
        type: 'bar',
        data: wickData,
        backgroundColor: highs.map((h, i) => barColor(i)),
        barThickness: 1.6,
        grouped: false,
        order: 2
      },
      {
        type: 'bar',
        data: bodyData,
        backgroundColor: opens.map((o, i) => barColor(i)),
        barThickness: 6.6,
        minBarLength: 1.5,
        grouped: false,
        order: 1
      }
    ]
  },
  options: {
    responsive: false,
    devicePixelRatio: 1,
    animation: false,
    layout: { padding: { left: 67 } },
    plugins: { legend: { display: false }, tooltip: { enabled: false } },
    scales: {
      x: {
        type: 'linear',
        min: -0.402,
        max: 287.48,
        offset: false,
        grid: { color: '#f1f2f4', lineWidth: 1.5, offset: false, drawTicks: false },
        border: { display: false },
        afterBuildTicks(scale) {
          scale.ticks = timeTickBars.map((v) => ({ value: v }));
        },
        afterFit(scale) {
          scale.height = 217;
          scale.paddingLeft = 0;
          scale.paddingRight = 0;
        },
        ticks: {
          autoSkip: false,
          maxRotation: 0,
          padding: 28,
          color: '#131722',
          callback(value, index) {
            return timeTickLabels[index];
          },
          font(ctx) {
            return { family: 'Roboto', size: 32, weight: ctx.index === 9 ? 'bold' : 'normal' };
          }
        }
      },
      y: {
        position: 'right',
        min: 111.68,
        max: 152.71,
        grid: { color: '#f1f2f4', lineWidth: 1.5, drawTicks: false },
        border: { display: false },
        afterBuildTicks(scale) {
          scale.ticks = priceTicks.map((v) => ({ value: v }));
        },
        afterFit(scale) {
          scale.width = 194;
          scale.paddingTop = 0;
          scale.paddingBottom = 0;
        },
        ticks: {
          autoSkip: false,
          padding: 30,
          labelOffset: 3,
          color: '#131722',
          font: { family: 'Roboto', size: 33 },
          callback(value) {
            return value.toFixed(2);
          }
        }
      },
      y1: { display: false, min: 0, max: 2589 }
    }
  },
  plugins: [drawingsPlugin]
});
</script>
</body>
</html>
